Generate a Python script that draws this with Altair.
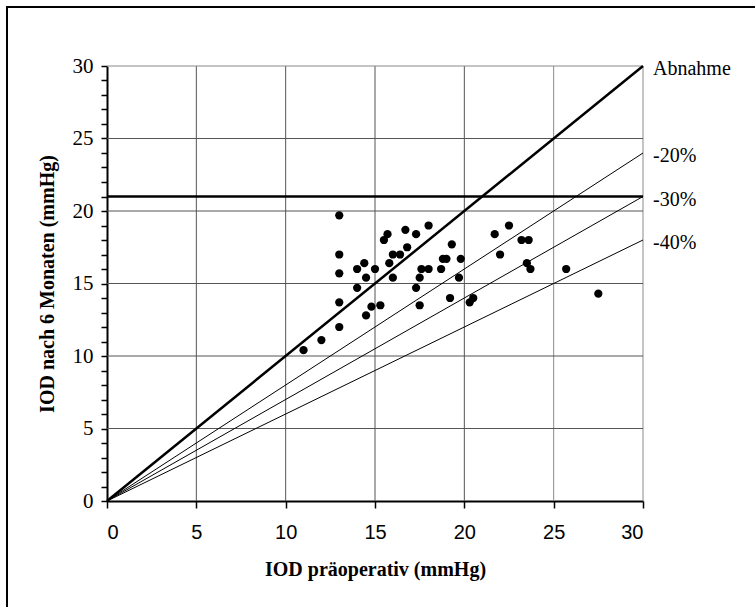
import altair as alt
import pandas as pd

# IOD values
pre = [11, 12, 13, 13, 13, 13, 13, 14, 14, 14.4, 14.5, 14.5, 14.8, 15, 15.3,
       15.5, 15.7, 15.8, 16, 16, 16.4, 16.7, 16.8, 17.3, 17.3, 17.5, 17.5, 17.6,
       18, 18, 18.7, 18.8, 19, 19.3, 19.2, 19.7, 19.8, 20.3, 20.5, 21.7, 22,
       22.5, 23.2, 23.6, 23.5, 23.7, 25.7, 27.5]
post = [10.4, 11.1, 19.7, 17, 15.7, 13.7, 12, 16, 14.7, 16.4, 15.4, 12.8, 13.4,
        16, 13.5, 18, 18.4, 16.4, 17, 15.4, 17, 18.7, 17.5, 18.4, 14.7, 15.4,
        13.5, 16, 19, 16, 16, 16.7, 16.7, 17.7, 14, 15.4, 16.7, 13.7, 14, 18.4,
        17, 19, 18, 18, 16.4, 16, 16, 14.3]

ref_labels = ["Abnahme", "-20%", "-30%", "-40%"]
ref_end = [30, 24, 21, 18]          # value of each reference line at x = 30
threshold = [21]
grid_dark = [5, 10, 15, 20]
grid_light = [25, 30]
ygrid_dark = [5, 10, 15, 20, 25]
ygrid_light = [30]
x_ticks = [0, 5, 10, 15, 20, 25, 30]
y_ticks = list(range(0, 31))

W, H = 536, 435
serif = "Liberation Serif"
sans = "Liberation Sans"
xs = alt.Scale(domain=[0, 30], nice=False, zero=False)
ys = alt.Scale(domain=[0, 30], nice=False, zero=False)

XAX = alt.Axis(
    values=x_ticks, grid=False, title="IOD präoperativ (mmHg)",
    titleFont=serif, titleFontWeight="bold", titleFontSize=20, titleColor="black",
    titleY=68, titleBaseline="middle",
    labelFont=sans, labelFontSize=20, labelColor="black", labelPadding=14,
    tickSize=7, tickColor="black", tickWidth=1.5,
    domainColor="black", domainWidth=2)
YAX = alt.Axis(
    values=y_ticks, grid=False, title="IOD nach 6 Monaten (mmHg)",
    labelExpr="datum.value % 5 === 0 ? datum.label : ''",
    titleFont=serif, titleFontWeight="bold", titleFontSize=20, titleColor="black",
    titleX=-60, titleBaseline="middle",
    labelFont=serif, labelFontSize=21, labelColor="black", labelPadding=8,
    tickSize=6, tickColor="black", tickWidth=1.5,
    domainColor="black", domainWidth=2)

pts = pd.DataFrame({"pre": pre, "post": post})
one = pd.DataFrame({"a": [0]})

frame = alt.Chart(one).mark_rect(fillOpacity=0, stroke="black", strokeWidth=2).encode(
    x=alt.value(-100), x2=alt.value(720), y=alt.value(-59), y2=alt.value(620)
)

def vgrid(vals, color):
    return alt.Chart(pd.DataFrame({"v": vals})).mark_rule(color=color, strokeWidth=1).encode(
        x=alt.X("v:Q", scale=xs, axis=XAX), y=alt.value(0), y2=alt.value(H)
    )

def hgrid(vals, color):
    return alt.Chart(pd.DataFrame({"v": vals})).mark_rule(color=color, strokeWidth=1).encode(
        y=alt.Y("v:Q", scale=ys, axis=YAX), x=alt.value(0), x2=alt.value(W)
    )

ref_df = pd.DataFrame({"x0": [0] * 4, "y0": [0] * 4, "x1": [30] * 4, "y1": ref_end,
                       "label": ref_labels})

diag_main = alt.Chart(ref_df.iloc[:1]).mark_rule(color="black", strokeWidth=2.5).encode(
    x=alt.X("x0:Q", scale=xs, axis=XAX), y=alt.Y("y0:Q", scale=ys, axis=YAX),
    x2="x1:Q", y2="y1:Q"
)
diag_other = alt.Chart(ref_df.iloc[1:]).mark_rule(color="black", strokeWidth=1).encode(
    x=alt.X("x0:Q", scale=xs, axis=XAX), y=alt.Y("y0:Q", scale=ys, axis=YAX),
    x2="x1:Q", y2="y1:Q"
)
thr = alt.Chart(pd.DataFrame({"t": threshold})).mark_rule(color="black", strokeWidth=2.5).encode(
    y=alt.Y("t:Q", scale=ys, axis=YAX), x=alt.value(0), x2=alt.value(W)
)
labels = alt.Chart(ref_df).mark_text(
    align="left", baseline="middle", dx=10, dy=3, font=serif, fontSize=20, color="black"
).encode(
    x=alt.X("x1:Q", scale=xs, axis=XAX), y=alt.Y("y1:Q", scale=ys, axis=YAX), text="label:N"
)

points = alt.Chart(pts).mark_circle(size=68, color="black", opacity=1).encode(
    x=alt.X("pre:Q", scale=xs, axis=XAX),
    y=alt.Y("post:Q", scale=ys, axis=YAX),
)

chart = alt.layer(
    frame,
    vgrid(grid_dark, "#555555"), vgrid(grid_light, "#8a8a8a"),
    hgrid(ygrid_dark, "#555555"), hgrid(ygrid_light, "#8a8a8a"),
    diag_other, diag_main, thr, labels, points
).properties(
    width=W, height=H,
    autosize=alt.AutoSizeParams(type="none"),
    padding={"left": 107, "top": 66, "right": 112, "bottom": 106},
    background="white"
).configure_view(stroke=None)

chart.save("out.html", embed_options={"renderer": "svg", "actions": False})
